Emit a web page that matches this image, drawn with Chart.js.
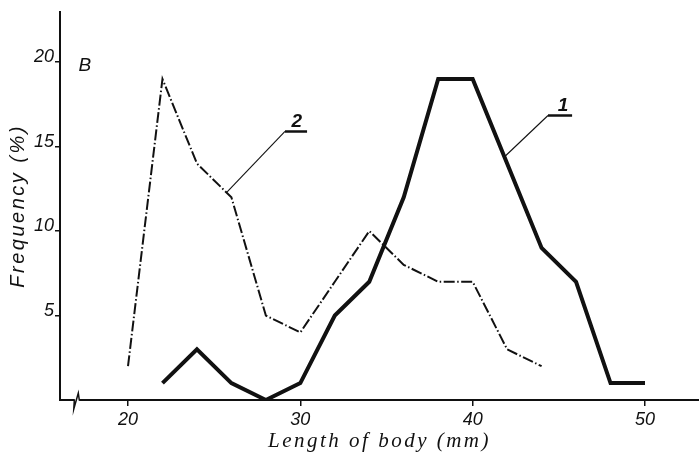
<!DOCTYPE html>
<html>
<head>
<meta charset="utf-8">
<script src="https://cdn.jsdelivr.net/npm/chart.js"></script>
<style>
  body { margin: 0; background: #fff; }
  #wrap { width: 699px; height: 460px; position: relative; }
</style>
</head>
<body>
<div id="wrap"><canvas id="freq"></canvas></div>
<script>
// body length classes (mm) and frequency (%) of the two samples
const lengths = [20, 22, 24, 26, 28, 30, 32, 34, 36, 38, 40, 42, 44, 46, 48, 50];
const sample1 = [null, 1, 3, 1, 0, 1, 5, 7, 12, 19, 19, 14, 9, 7, 1, 1];
const sample2 = [2, 19, 14, 12, 5, 4, 7, 10, 8, 7, 7, 3, 2, null, null, null];

const xTicks = [20, 30, 40, 50];
const yTicks = [5, 10, 15, 20];

// curve numbers with their leader lines, in data units
const tags = [
  { text: '1', x: 45.24, y: 17.4 },
  { text: '2', x: 29.8, y: 16.5 }
];
const leaders = [
  [[41.85, 14.4], [44.37, 16.84]],
  [[25.74, 12.3], [29.11, 15.9]]
];
const underlines = [
  [[44.37, 16.84], [45.77, 16.84]],
  [[29.11, 15.9], [30.39, 15.9]]
];
const panelLetter = { text: 'B', x: 17.5, y: 19.8 };
const breakAt = 17;

const ink = '#111';

function toPoints(vals) {
  return lengths.map((x, i) => ({ x: x, y: vals[i] }));
}
function pairs(p) {
  return p.map(([x, y]) => ({ x, y }));
}

const datasets = [
  {
    data: toPoints(sample1),
    borderColor: ink,
    borderWidth: 4,
    borderJoinStyle: 'miter',
    pointRadius: 0,
    tension: 0
  },
  {
    data: toPoints(sample2),
    borderColor: ink,
    borderWidth: 2,
    borderDash: [11, 2.5, 1.5, 2.5],
    pointRadius: 0,
    tension: 0
  }
];
leaders.forEach(l => datasets.push({
  data: pairs(l), borderColor: ink, borderWidth: 1.1, pointRadius: 0
}));
underlines.forEach(l => datasets.push({
  data: pairs(l), borderColor: ink, borderWidth: 2.5, pointRadius: 0, borderCapStyle: 'butt'
}));

// wide lettering on the axis titles only
const spacing = {
  id: 'spacing',
  beforeDraw(chart) { chart.ctx.letterSpacing = '2.5px'; },
  beforeDatasetsDraw(chart) { chart.ctx.letterSpacing = '0px'; }
};

// curve numbers, panel letter and the axis break
const marks = {
  id: 'marks',
  afterDraw(chart) {
    const { ctx, scales: { x, y } } = chart;
    ctx.save();
    ctx.fillStyle = ink;
    ctx.textAlign = 'center';
    ctx.textBaseline = 'middle';
    ctx.font = 'italic bold 19px "Liberation Sans"';
    tags.forEach(t => ctx.fillText(t.text, x.getPixelForValue(t.x), y.getPixelForValue(t.y)));
    ctx.font = 'italic 19px "Liberation Sans"';
    ctx.fillText(panelLetter.text, x.getPixelForValue(panelLetter.x), y.getPixelForValue(panelLetter.y));

    const bx = x.getPixelForValue(breakAt);
    const by = y.getPixelForValue(0);
    ctx.fillStyle = '#fff';
    ctx.fillRect(bx - 2, by - 2, 5, 4);
    ctx.strokeStyle = ink;
    ctx.lineWidth = 1.5;
    ctx.beginPath();
    ctx.moveTo(bx - 4, by);
    ctx.lineTo(bx - 2, by);
    ctx.lineTo(bx - 2.5, by + 9);
    ctx.lineTo(bx + 2, by - 7);
    ctx.lineTo(bx + 3, by);
    ctx.lineTo(bx + 6, by);
    ctx.stroke();
    ctx.restore();
  }
};

new Chart(document.getElementById('freq'), {
  type: 'line',
  data: { datasets: datasets },
  plugins: [spacing, marks],
  options: {
    responsive: true,
    maintainAspectRatio: false,
    animation: false,
    layout: { padding: { top: 7, right: 0, left: 0, bottom: 0 } },
    plugins: {
      legend: { display: false },
      tooltip: { enabled: false }
    },
    scales: {
      x: {
        type: 'linear',
        min: 16.054,
        max: 53.134,
        afterBuildTicks: s => { s.ticks = xTicks.map(v => ({ value: v })); },
        afterFit: s => { s.height = 60; },
        grid: { drawOnChartArea: false, drawTicks: true, tickLength: 6, color: ink, lineWidth: 1.5 },
        border: { display: true, color: ink, width: 2 },
        ticks: {
          z: 1,
          color: ink,
          padding: 3,
          maxRotation: 0,
          font: { family: '"Liberation Sans"', style: 'italic', size: 18 }
        },
        title: {
          display: true,
          text: 'Length of body (mm)',
          color: ink,
          padding: { top: 0, bottom: 6 },
          font: { family: '"Liberation Serif"', style: 'italic', size: 21 }
        }
      },
      y: {
        type: 'linear',
        min: 0,
        max: 22.98,
        afterBuildTicks: s => { s.ticks = yTicks.map(v => ({ value: v })); },
        afterFit: s => { s.width = 60; },
        grid: { drawOnChartArea: false, drawTicks: true, tickLength: 5, color: ink, lineWidth: 1.5 },
        border: { display: true, color: ink, width: 2 },
        ticks: {
          z: 1,
          color: ink,
          padding: 1,
          labelOffset: -5,
          font: { family: '"Liberation Sans"', style: 'italic', size: 18 }
        },
        title: {
          display: true,
          text: 'Frequency (%)',
          color: ink,
          padding: { top: 6, bottom: 0 },
          font: { family: '"Liberation Sans"', style: 'italic', size: 20 }
        }
      }
    }
  }
});
</script>
</body>
</html>
